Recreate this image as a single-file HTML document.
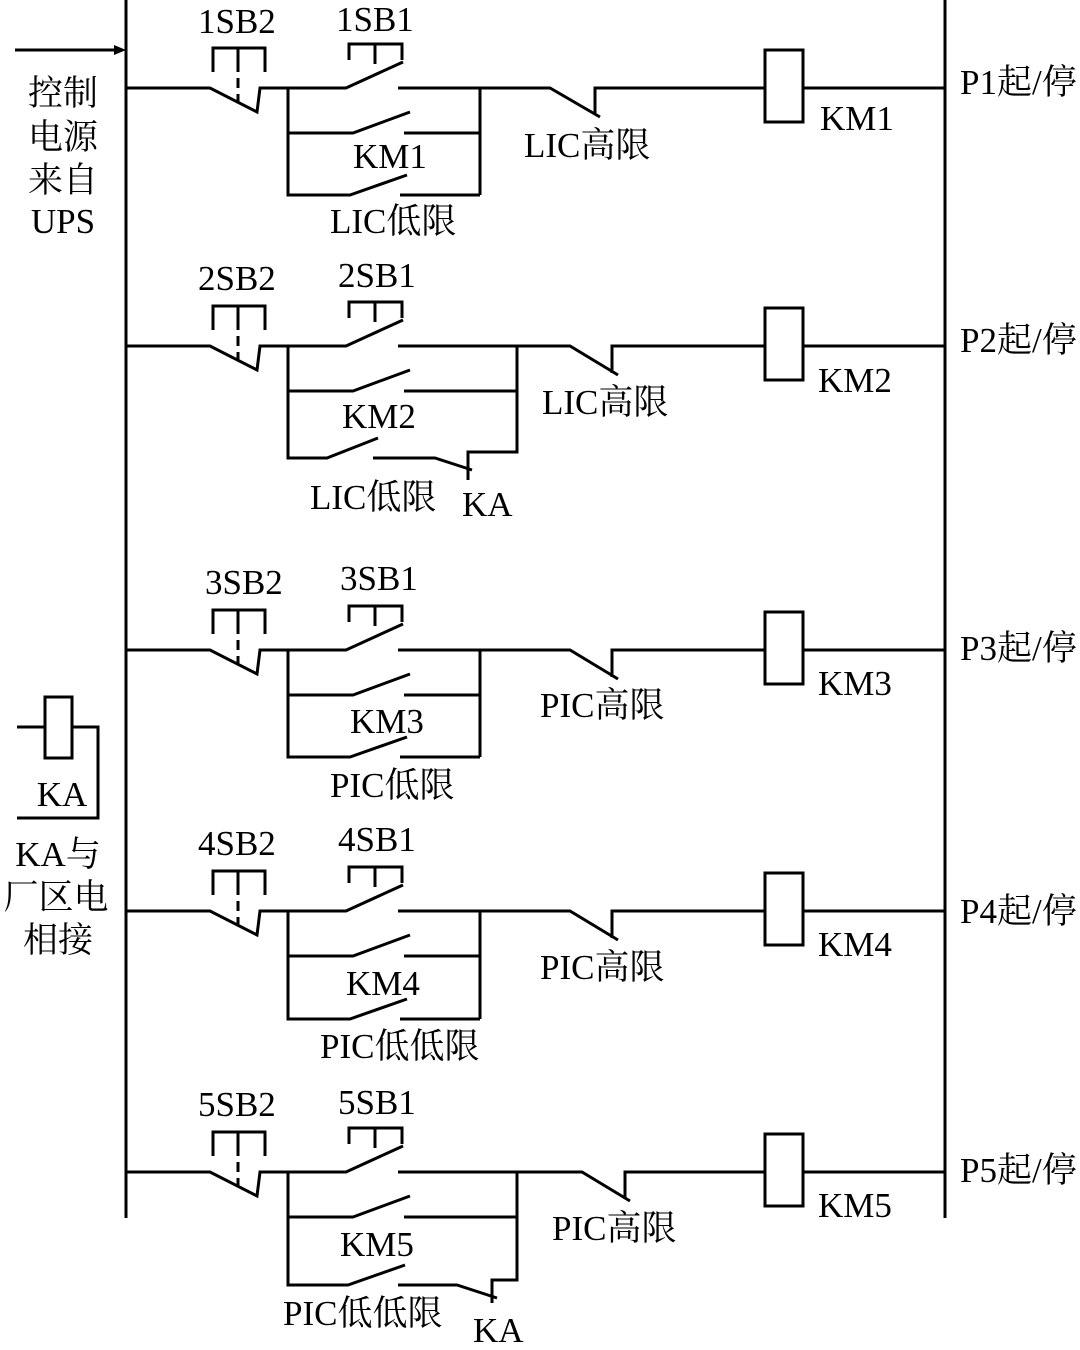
<!DOCTYPE html>
<html><head><meta charset="utf-8"><style>
html,body{margin:0;padding:0;background:#fff}
svg{display:block}
text{font-family:"Liberation Serif","Noto Serif CJK SC","Noto Sans CJK SC",serif;font-size:35px;fill:#000}
</style></head><body>
<svg width="1080" height="1350" viewBox="0 0 1080 1350" xmlns="http://www.w3.org/2000/svg">
<g stroke="#000" stroke-width="3" fill="none">
<line x1="126" y1="0" x2="126" y2="1218"/>
<line x1="945" y1="0" x2="945" y2="1218"/>
<line x1="15" y1="50" x2="118" y2="50"/>
<path d="M45,697 h27 v61 h-27 z"/>
<path d="M17,727 H45 M72,727 H98 V818 H17"/>
</g>
<polygon points="126,50 114,45 114,55" fill="#000"/>

<defs>
<g id="common" stroke="#000" stroke-width="3" fill="none">
<path d="M126,0 H210 L257,24 L260,0 H346 L403,-26"/>
<path d="M213,-16 V-40 H265 V-16 M238,-40 V-16"/>
<path d="M238,-10 V14" stroke-dasharray="10,6"/>
<path d="M349,-28 V-44 H402 V-28 M375,-44 V-24"/>
<path d="M288,0 V45 M288,45 H353 L410,24"/>
<rect x="765" y="-38" width="38" height="72"/>
<path d="M803,0 H945"/>
</g>
</defs>

<!-- Rung 1 -->
<g transform="translate(0,88)">
<use href="#common"/>
<g stroke="#000" stroke-width="3" fill="none">
<path d="M398,0 H550 L600,29 M595,27 V0 H765"/>
<path d="M480,0 V107 M404,45 H480 M288,45 V107 H350 L407,87 M400,107 H480"/>
</g>
<text x="198" y="-55">1SB2</text><text x="336" y="-57">1SB1</text>
<text x="353" y="80">KM1</text><text x="330" y="145">LIC低限</text>
<text x="524" y="69">LIC高限</text><text x="820" y="42">KM1</text>
<text x="960" y="6">P1起/停</text>
</g>

<!-- Rung 2 -->
<g transform="translate(0,346)">
<use href="#common"/>
<g stroke="#000" stroke-width="3" fill="none">
<path d="M398,0 H570 L618,29 M612,27 V0 H765"/>
<path d="M517,0 V106 H468 V134 M404,45 H517 M288,45 V112 H327 L378,92 M373,112 H435 L472,124"/>
</g>
<text x="198" y="-56">2SB2</text><text x="338" y="-59">2SB1</text>
<text x="342" y="82">KM2</text><text x="310" y="163">LIC低限</text>
<text x="462" y="170">KA</text>
<text x="542" y="68">LIC高限</text><text x="818" y="46">KM2</text>
<text x="960" y="6">P2起/停</text>
</g>

<!-- Rung 3 -->
<g transform="translate(0,650)">
<use href="#common"/>
<g stroke="#000" stroke-width="3" fill="none">
<path d="M398,0 H570 L618,29 M612,27 V0 H765"/>
<path d="M480,0 V107 M404,45 H480 M288,45 V107 H350 L407,87 M400,107 H480"/>
</g>
<text x="205" y="-56">3SB2</text><text x="340" y="-60">3SB1</text>
<text x="350" y="83">KM3</text><text x="330" y="147">PIC低限</text>
<text x="540" y="67">PIC高限</text><text x="818" y="45">KM3</text>
<text x="960" y="10">P3起/停</text>
</g>

<!-- Rung 4 -->
<g transform="translate(0,911)">
<use href="#common"/>
<g stroke="#000" stroke-width="3" fill="none">
<path d="M398,0 H570 L618,29 M612,27 V0 H765"/>
<path d="M480,0 V108 M404,45 H480 M288,45 V108 H350 L407,88 M400,108 H480"/>
</g>
<text x="198" y="-56">4SB2</text><text x="338" y="-60">4SB1</text>
<text x="346" y="84">KM4</text><text x="320" y="147">PIC低低限</text>
<text x="540" y="68">PIC高限</text><text x="818" y="45">KM4</text>
<text x="960" y="12">P4起/停</text>
</g>

<!-- Rung 5 -->
<g transform="translate(0,1172)">
<use href="#common"/>
<g stroke="#000" stroke-width="3" fill="none">
<path d="M398,0 H582 L630,29 M625,27 V0 H765"/>
<path d="M517,0 V108 H492 V131 M404,45 H517 M288,45 V113 H348 L405,93 M398,113 H457 L497,126"/>
</g>
<text x="198" y="-56">5SB2</text><text x="338" y="-58">5SB1</text>
<text x="340" y="84">KM5</text><text x="283" y="153">PIC低低限</text>
<text x="473" y="170">KA</text>
<text x="552" y="68">PIC高限</text><text x="818" y="45">KM5</text>
<text x="960" y="10">P5起/停</text>
</g>

<!-- left texts -->
<g text-anchor="middle">
<text x="63" y="105">控制</text>
<text x="63" y="149">电源</text>
<text x="63" y="192">来自</text>
<text x="63" y="233">UPS</text>
<text x="62" y="806">KA</text>
<text x="58" y="866">KA与</text>
<text x="56" y="909">厂区电</text>
<text x="58" y="952">相接</text>
</g>
</svg>
</body></html>
